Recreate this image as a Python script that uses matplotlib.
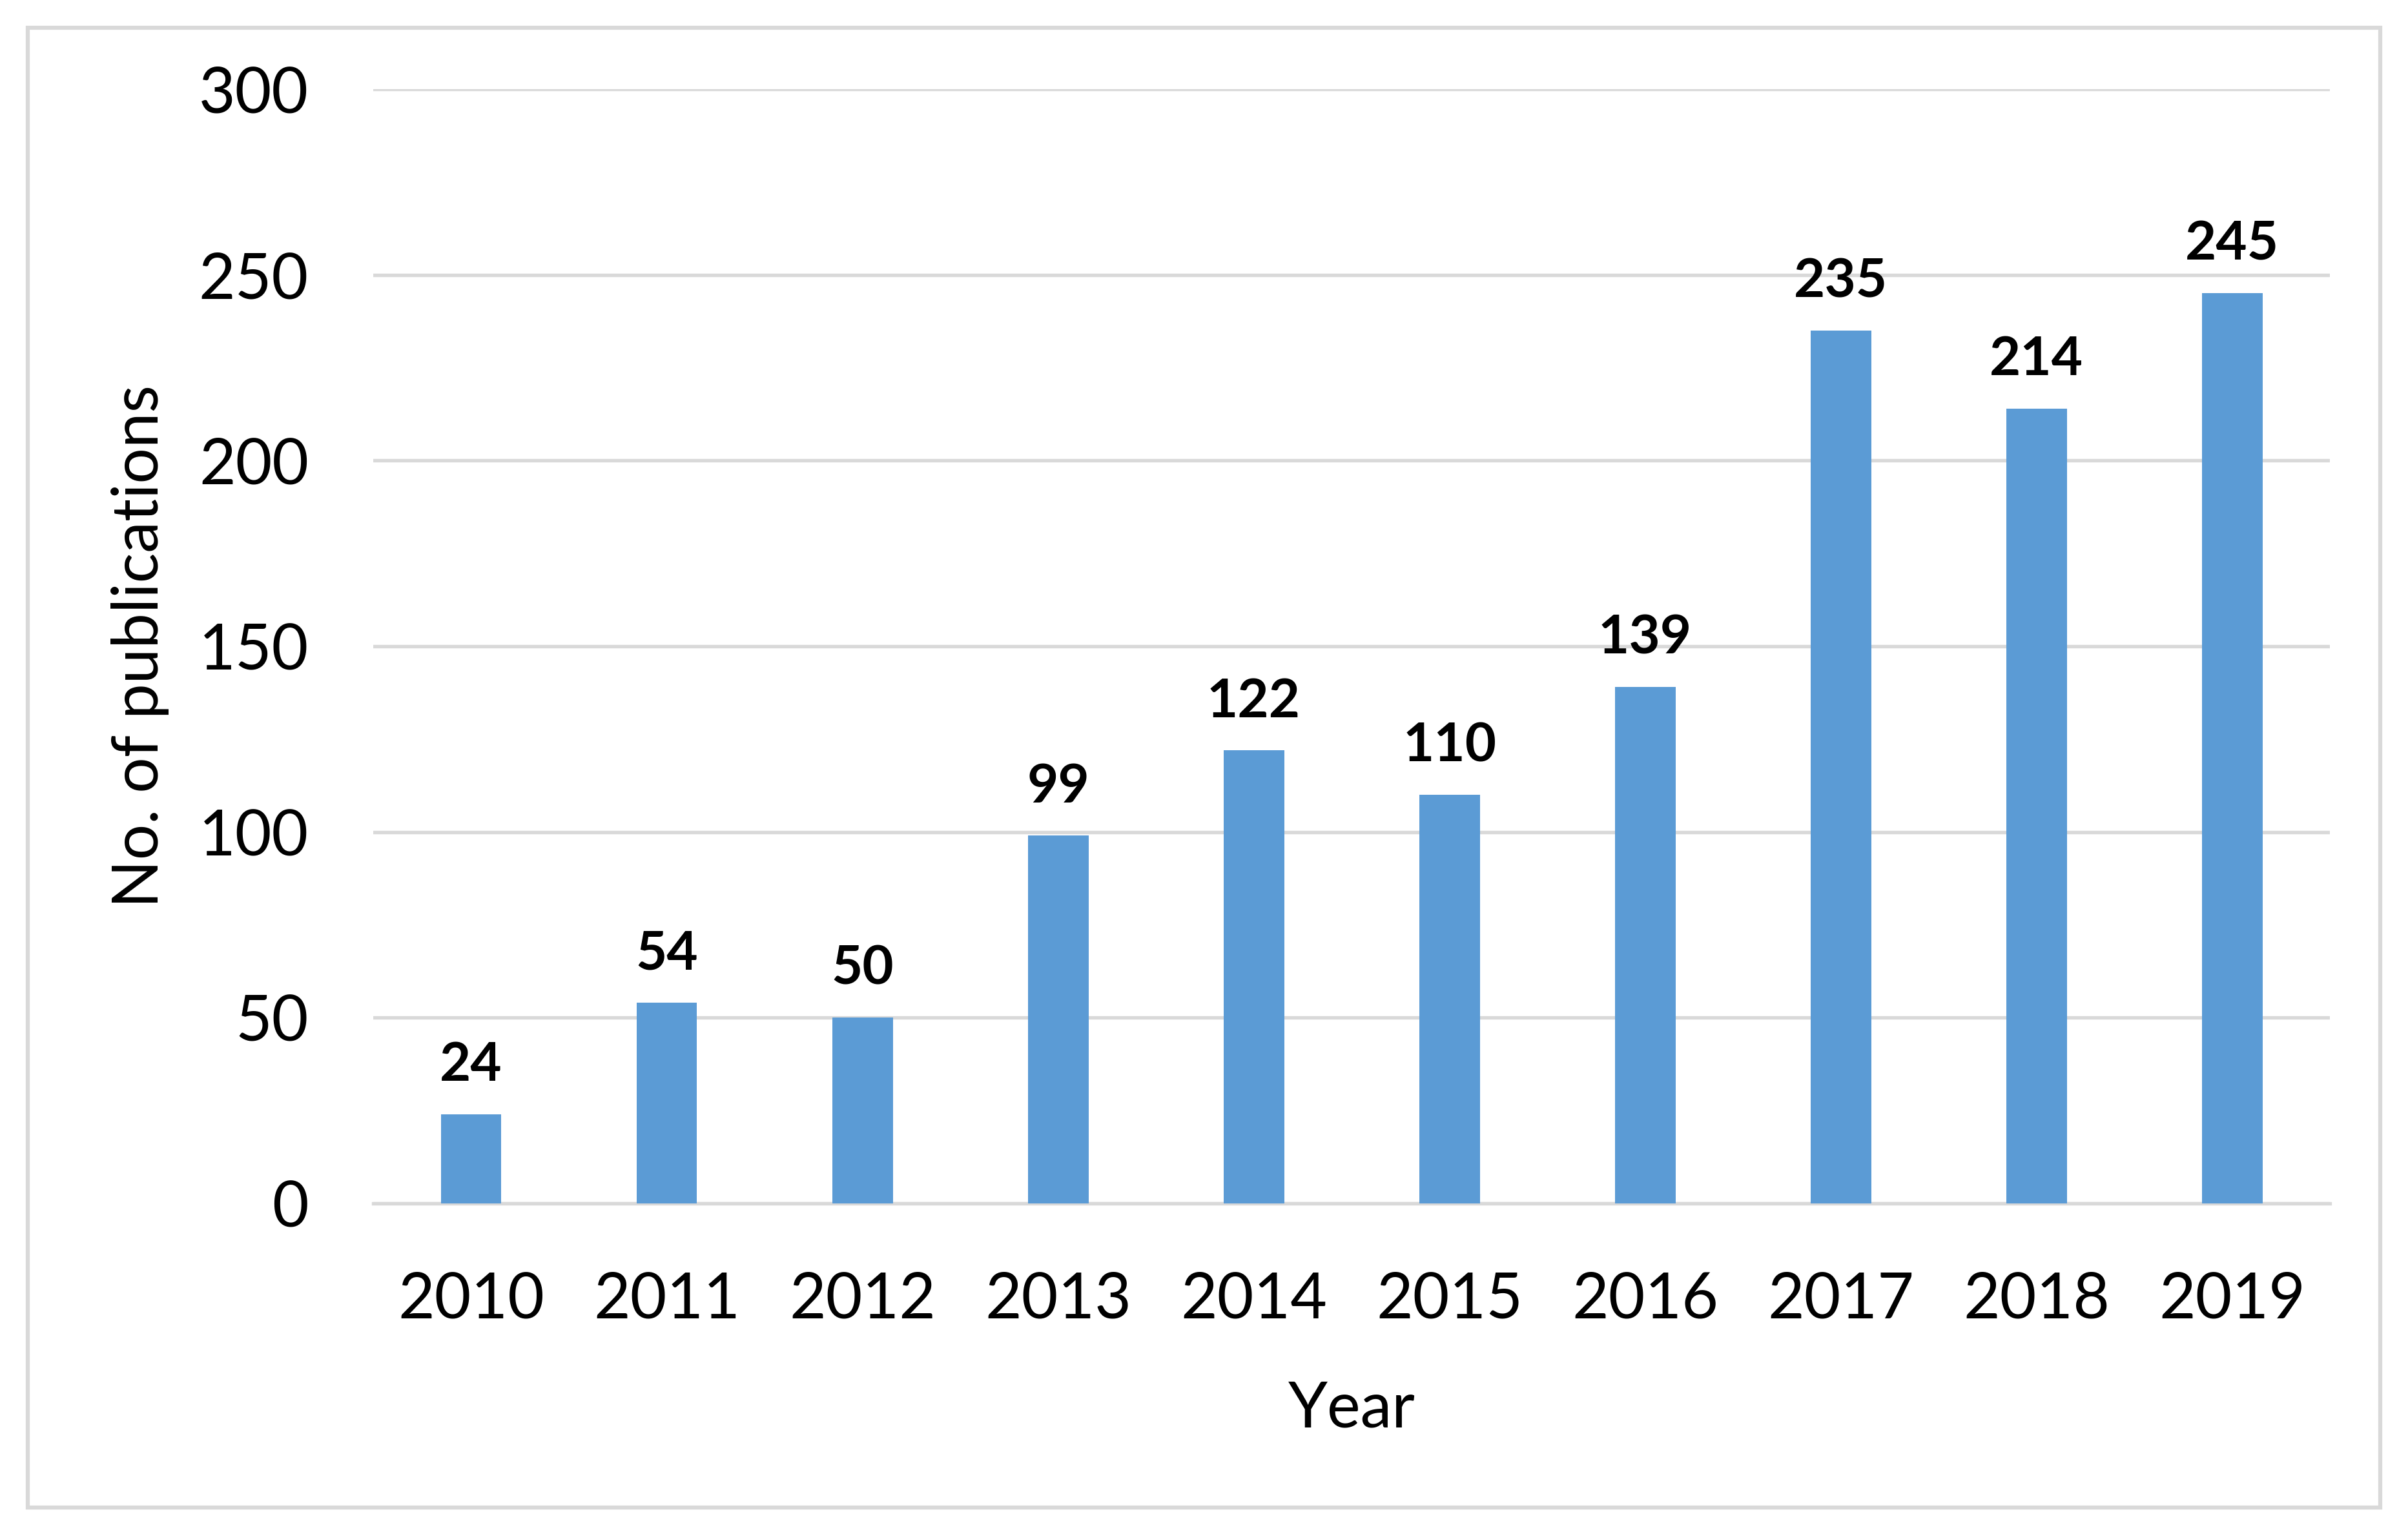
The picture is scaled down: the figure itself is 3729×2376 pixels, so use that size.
import numpy as np
import matplotlib
matplotlib.use('Agg')
import matplotlib.pyplot as plt
from matplotlib.patches import Rectangle

plt.rcParams['font.family'] = ['Lato', 'DejaVu Sans']

years = ['2010', '2011', '2012', '2013', '2014', '2015', '2016', '2017', '2018', '2019']
counts = [24, 54, 50, 99, 122, 110, 139, 235, 214, 245]
yticks = [0, 50, 100, 150, 200, 250, 300]

fig = plt.figure(figsize=(3729 / 300, 2376 / 300), dpi=300)
ax = fig.add_axes([0.155, 0.2155, 0.8126, 0.7264])

x = np.arange(len(years))
bars = ax.bar(x, counts, width=0.31, color='#5B9BD5', zorder=3)
for b, v in zip(bars, counts):
    ax.annotate(str(v), (b.get_x() + b.get_width() / 2, v), xytext=(0, 9),
                textcoords='offset points', ha='center', va='bottom',
                fontsize=20, fontweight='bold')

ax.set_xlim(-0.5, len(years) - 0.5)
ax.set_ylim(0, 300)
ax.set_yticks(yticks)
ax.set_xticks(x)
ax.set_xticklabels(years)
ax.tick_params(axis='both', length=0, labelsize=23.5)
ax.tick_params(axis='y', pad=24)
ax.tick_params(axis='x', pad=25)
ax.grid(axis='y', color='#D9D9D9', linewidth=1.3, zorder=0)
for s in ['top', 'right', 'left']:
    ax.spines[s].set_visible(False)
ax.spines['bottom'].set_color('#D9D9D9')
ax.spines['bottom'].set_linewidth(1.3)

ax.set_xlabel('Year', fontsize=23.5, labelpad=19)
ax.set_ylabel('No. of publications', fontsize=23.5, labelpad=11)

fig.patches.append(Rectangle((0.0115, 0.0173), 0.977, 0.9646, transform=fig.transFigure,
                             fill=False, edgecolor='#D9D9D9', linewidth=1.5))

fig.savefig('out.png', dpi=300, facecolor='white')
